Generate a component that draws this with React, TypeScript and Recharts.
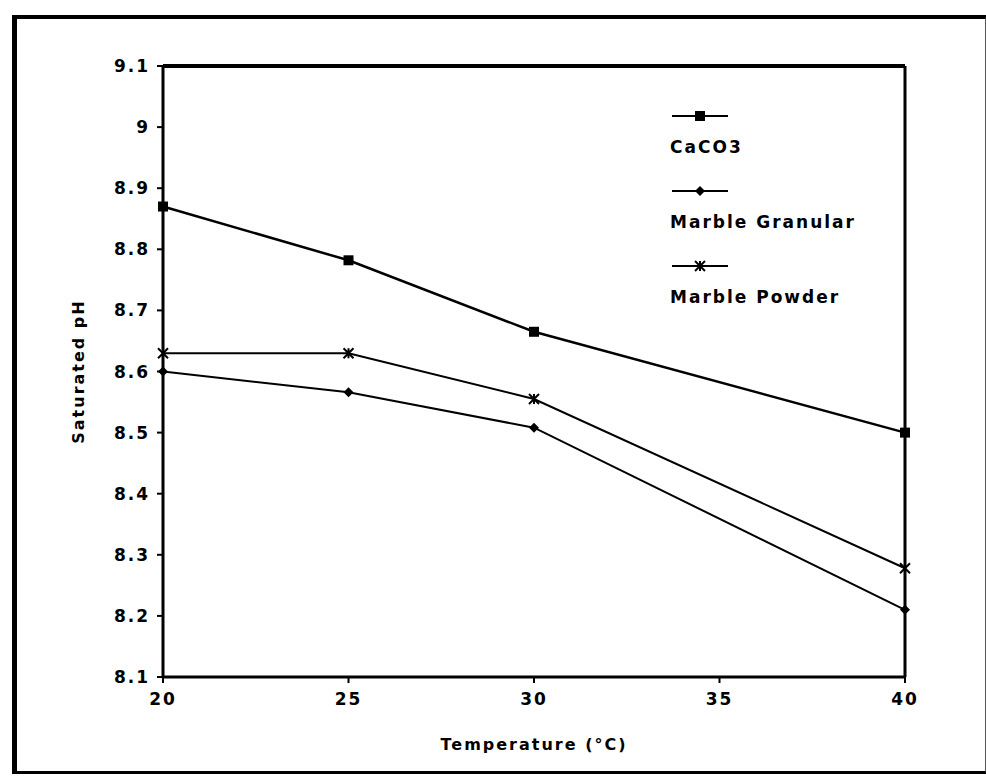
import { LineChart, Line, XAxis, YAxis, ReferenceLine } from 'recharts';

// values
const temperatures = [20, 25, 30, 40];
const caco3 = [8.87, 8.782, 8.665, 8.5];
const marbleGranular = [8.6, 8.566, 8.508, 8.21];
const marblePowder = [8.63, 8.63, 8.555, 8.278];

const xTicks = [20, 25, 30, 35, 40];
const yTicks = [8.1, 8.2, 8.3, 8.4, 8.5, 8.6, 8.7, 8.8, 8.9, 9.0, 9.1];

const seriesNames = ['CaCO3', 'Marble Granular', 'Marble Powder'];

const data = temperatures.map((t, i) => ({
  temp: t,
  caco3: caco3[i],
  granular: marbleGranular[i],
  powder: marblePowder[i],
}));

const FONT = '"DejaVu Sans", sans-serif';
const tickStyle = { fontFamily: FONT, fontWeight: 700, fontSize: 17, fill: '#000', letterSpacing: 2 };

function marker(kind: string, cx: number, cy: number, key?: any) {
  if (kind === 'square') {
    return <rect key={key} x={cx - 5} y={cy - 5} width={10} height={10} fill="#000" />;
  }
  if (kind === 'diamond') {
    return (
      <path
        key={key}
        d={`M${cx},${cy - 5}L${cx + 5},${cy}L${cx},${cy + 5}L${cx - 5},${cy}Z`}
        fill="#000"
      />
    );
  }
  return (
    <path
      key={key}
      d={`M${cx - 5},${cy - 5}L${cx + 5},${cy + 5}M${cx - 5},${cy + 5}L${cx + 5},${cy - 5}M${cx},${cy - 5}L${cx},${cy + 5}`}
      stroke="#000"
      strokeWidth={2}
      fill="none"
    />
  );
}

const kinds = ['square', 'diamond', 'cross'];

function dotOf(kind: string) {
  return (p: any) => marker(kind, p.cx, p.cy, `${kind}-${p.index}`);
}

function LegendBox() {
  return (
    <div
      style={{
        position: 'absolute',
        left: 670,
        top: 110,
        fontFamily: FONT,
        fontWeight: 700,
        fontSize: 17,
        letterSpacing: 2,
        color: '#000',
      }}
    >
      {seriesNames.map((name, i) => (
        <div key={name} style={{ height: 75 }}>
          <svg width={60} height={12} style={{ display: 'block' }}>
            <line x1={2} y1={6} x2={58} y2={6} stroke="#000" strokeWidth={2} />
            {marker(kinds[i], 30, 6)}
          </svg>
          <div style={{ marginTop: 15, lineHeight: '20px', whiteSpace: 'nowrap' }}>{name}</div>
        </div>
      ))}
    </div>
  );
}

export default function App() {
  return (
    <div style={{ position: 'absolute', left: 0, top: 0, width: 986, height: 776, background: '#fff' }}>
      <div
        style={{
          position: 'absolute',
          left: 12,
          top: 15,
          width: 968,
          height: 752,
          borderLeft: '5px solid #000',
          borderTop: '4px solid #000',
          borderBottom: '3px solid #000',
          borderRight: '2px solid #555',
        }}
      />
      <div style={{ position: 'absolute', left: 0, top: 0 }}>
        <LineChart width={986} height={776} data={data} margin={{ top: 66, right: 81, bottom: 0, left: 0 }}>
          <XAxis
            dataKey="temp"
            type="number"
            domain={[20, 40]}
            ticks={xTicks}
            tickSize={6}
            tickMargin={10}
            height={99}
            axisLine={{ stroke: '#000', strokeWidth: 3 }}
            tickLine={{ stroke: '#000', strokeWidth: 2 }}
            tick={tickStyle}
            label={{
              value: 'Temperature (°C)',
              position: 'insideBottom',
              offset: 26,
              style: { ...tickStyle, fontSize: 16, textAnchor: 'middle' },
            }}
          />
          <YAxis
            type="number"
            domain={[8.1, 9.1]}
            ticks={yTicks}
            tickFormatter={(v: number) => String(Number(v.toFixed(1)))}
            width={163}
            tickSize={6}
            tickMargin={7}
            axisLine={{ stroke: '#000', strokeWidth: 3 }}
            tickLine={{ stroke: '#000', strokeWidth: 2 }}
            tick={tickStyle}
            label={{
              value: 'Saturated pH',
              angle: -90,
              position: 'insideLeft',
              offset: 78,
              style: { ...tickStyle, fontSize: 16, textAnchor: 'middle' },
            }}
          />
          <ReferenceLine y={9.1} stroke="#000" strokeWidth={4} />
          <ReferenceLine x={40} stroke="#000" strokeWidth={3} />
          <Line
            name={seriesNames[0]}
            dataKey="caco3"
            stroke="#000"
            strokeWidth={2.5}
            dot={dotOf('square')}
            isAnimationActive={false}
          />
          <Line
            name={seriesNames[1]}
            dataKey="granular"
            stroke="#000"
            strokeWidth={2}
            dot={dotOf('diamond')}
            isAnimationActive={false}
          />
          <Line
            name={seriesNames[2]}
            dataKey="powder"
            stroke="#000"
            strokeWidth={2}
            dot={dotOf('cross')}
            isAnimationActive={false}
          />
        </LineChart>
      </div>
      <LegendBox />
    </div>
  );
}
